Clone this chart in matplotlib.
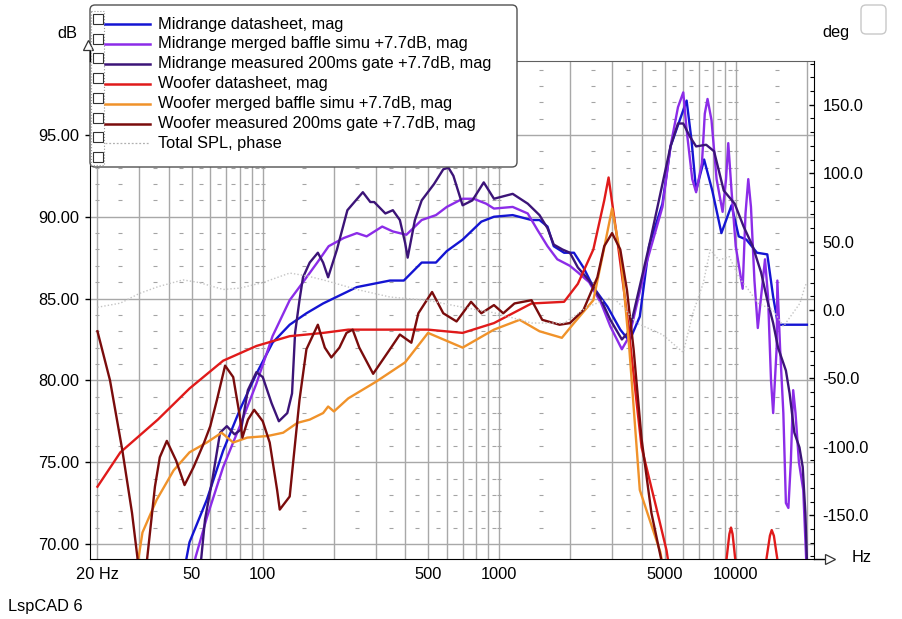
import numpy as np
import matplotlib
matplotlib.use('Agg')
import matplotlib.pyplot as plt
from matplotlib.patches import FancyBboxPatch, Rectangle
from matplotlib.ticker import FixedLocator, NullFormatter

plt.rcParams['font.family'] = ['Liberation Sans', 'DejaVu Sans']

# ---- data (Hz, dB) ----
mid_ds_f = [46, 49, 58, 68, 80, 94, 110, 130, 153, 180, 250, 345, 395, 470, 540, 600,
            700, 840, 950, 1140, 1370, 1480, 1600, 1700, 1880, 2070, 2270, 2500, 2870,
            3250, 3550, 3930, 4300, 4900, 5300, 6200, 6500, 6800, 7350, 7960, 8700,
            9600, 10300, 11100, 12300, 13600, 14400, 15100, 20000]
mid_ds_db = [68.0, 70.1, 72.7, 75.7, 78.2, 80.4, 82.3, 83.4, 84.1, 84.7, 85.7, 86.1, 86.1,
             87.2, 87.2, 87.9, 88.6, 89.7, 90.0, 90.1, 89.8, 89.8, 89.4, 88.2, 87.8, 87.8,
             86.9, 85.7, 84.5, 83.1, 82.4, 83.9, 88.2, 90.8, 94.3, 97.1, 94.7, 91.6, 93.5,
             91.6, 89.0, 90.7, 88.8, 88.6, 87.8, 87.7, 85.1, 83.4, 83.4]

mid_sim_f = [50, 52, 58, 68, 80, 94, 110, 130, 148, 170, 190, 220, 250, 275, 320, 355, 405,
             470, 540, 600, 700, 780, 880, 950, 1140, 1320, 1450, 1600, 1760, 1990, 2150,
             2400, 2700, 2950, 3300, 3550, 4200, 4900, 5300, 5700, 6000, 6200, 6550, 6800,
             7200, 7400, 7600, 7900, 8300, 8800, 9100, 9300, 9600, 10000, 10700, 11000,
             11300, 11600, 12000, 12400, 12800, 13300, 13700, 14100, 14400, 14900, 15000,
             15400, 15900, 16300, 16700, 17100, 17500, 17900, 18500, 19300, 19800, 20000]
mid_sim_db = [68.0, 69.2, 71.6, 74.7, 77.2, 79.8, 82.7, 84.9, 86.0, 87.2, 88.2, 88.7, 89.0,
              88.8, 89.4, 89.1, 88.9, 89.8, 90.1, 90.6, 91.1, 91.1, 90.8, 90.5, 90.6, 90.2,
              89.2, 88.2, 87.4, 87.0, 86.6, 86.0, 84.7, 83.3, 81.9, 82.7, 87.2, 90.6, 94.3,
              96.7, 97.6, 95.3, 92.3, 91.5, 93.3, 96.3, 97.2, 95.9, 92.3, 90.3, 92.3, 94.5,
              91.6, 88.2, 85.6, 90.2, 92.3, 90.6, 86.1, 83.2, 85.1, 87.4, 85.1, 80.0, 78.0,
              82.0, 86.1, 82.0, 78.0, 72.5, 72.2, 75.0, 79.4, 78.0, 75.0, 73.3, 69.5, 68.0]

mid_meas_f = [54, 57, 61.5, 66, 70.5, 76, 81, 86.5, 94, 100, 109, 117, 127, 133, 137, 143,
              148, 158, 171, 180, 189, 206, 228, 265, 285, 296, 330, 355, 380, 400, 410,
              440, 470, 530, 580, 610, 640, 700, 770, 860, 950, 1140, 1320, 1480, 1600,
              1700, 1850, 1990, 2150, 2400, 2700, 2950, 3300, 3550, 4300, 5300, 5700, 6000,
              6400, 6800, 7500, 8100, 8900, 9900, 10800, 11800, 12800, 13600, 14400, 15100,
              16300, 16900, 17700, 18600, 19200, 19700, 20000]
mid_meas_db = [68.0, 71.5, 74.1, 76.8, 77.2, 76.7, 77.0, 79.4, 80.5, 80.2, 78.6, 77.5, 78.0,
               79.2, 82.9, 84.9, 86.3, 87.2, 87.8, 87.2, 86.3, 88.0, 90.4, 91.5, 90.9, 90.9,
               90.2, 90.4, 89.8, 88.4, 87.5, 89.8, 91.0, 92.0, 92.9, 93.0, 92.5, 90.7, 91.0,
               92.1, 91.1, 91.4, 90.8, 90.1, 89.3, 88.3, 88.0, 87.8, 86.9, 86.1, 84.9, 83.7,
               82.5, 83.0, 88.2, 94.3, 95.7, 95.7, 94.9, 94.3, 94.4, 94.0, 91.6, 90.8, 89.4,
               88.2, 86.6, 84.9, 83.5, 82.0, 80.6, 79.2, 76.8, 75.9, 74.7, 71.9, 69.0]

woof_ds_f = [20, 25, 36, 49, 68, 94, 130, 180, 230, 500, 700, 950, 1370, 1880, 2150, 2500,
             2780, 2900, 3130, 3480, 3800, 4000, 4600, 5100, 5300,
             np.nan, 9050, 9400, 9550, 9700, 10050,
             np.nan, 13300, 13950, 14200, 14500, 15200]
woof_ds_db = [73.5, 75.6, 77.6, 79.5, 81.2, 82.1, 82.7, 82.9, 83.1, 83.1, 82.9, 83.5, 84.7,
              84.8, 85.9, 88.0, 91.0, 92.4, 89.0, 83.9, 78.8, 75.9, 72.3, 69.6, 68.0,
              np.nan, 68.5, 70.6, 71.0, 70.6, 68.5,
              np.nan, 68.5, 70.5, 70.85, 70.5, 68.5]

woof_sim_f = [29, 31, 35.6, 42, 49, 58, 67, 75, 86, 105, 122, 140, 158, 180, 189, 200, 230,
              300, 400, 500, 700, 950, 1220, 1480, 1840, 2070, 2500, 2770, 3000, 3280,
              3550, 3930, 4800, 5000]
woof_sim_db = [68.0, 70.7, 72.7, 74.5, 75.6, 76.2, 76.8, 76.2, 76.5, 76.6, 76.8, 77.4, 77.6,
               78.0, 78.4, 78.1, 78.9, 79.9, 81.1, 82.9, 82.0, 83.1, 83.7, 83.0, 82.6, 83.5,
               84.9, 88.0, 90.5, 87.4, 81.9, 73.3, 69.5, 68.0]

woof_meas_f = [20, 22.6, 25.5, 28, 29.5, 30.8, 32.5, 35, 36.7, 39.3, 43, 46.7, 51, 56.5, 60,
               64, 69.3, 75, 80, 82, 86.6, 92, 100, 107, 115, 118, 130, 136, 143, 153, 171,
               183, 195, 211, 226, 240, 256, 293, 345, 380, 425, 455, 520, 580, 660, 760,
               840, 950, 1040, 1160, 1370, 1520, 1800, 1990, 2270, 2600, 2780, 3000, 3250,
               3470, 3700, 4000, 4400, 4850, 5000]
woof_meas_db = [83.0, 80.0, 75.7, 71.9, 69.2, 66.0, 69.2, 73.5, 75.3, 76.3, 75.1, 73.6, 74.7,
                76.2, 77.2, 78.8, 80.9, 80.2, 77.8, 76.5, 77.6, 78.2, 77.5, 76.2, 73.3, 72.1,
                72.9, 75.7, 78.8, 81.9, 83.4, 82.0, 81.4, 82.0, 82.9, 83.1, 82.0, 80.4, 81.9,
                82.8, 82.3, 84.1, 85.4, 84.1, 83.6, 84.8, 84.1, 84.6, 84.1, 84.7, 84.9, 83.7,
                83.4, 83.5, 84.3, 86.3, 88.2, 89.0, 88.0, 85.5, 81.9, 76.4, 71.9, 69.0, 68.0]

# total SPL phase (deg, right axis)
phase_f = [20, 25, 30, 36, 46, 54, 68, 80, 100, 130, 153, 180, 250, 345, 430, 500, 700, 950,
           1370, 1880, 2350, 3000, 3350, 3800, 4900, 6000, 6600, 7300, 7800, 8500, 9400,
           10300, 11300, 12400, 14400, 15900, 17500, 18700, 19600, 20000]
phase_deg = [2, 5, 12, 17, 22, 20, 15, 16, 20, 27, 25, 22, 15, 9.5, 8, 7, 2, -2, -9.5, -9.5,
             2, 9.5, 2, -9.5, -18, -31, -2, 20, 44, 36.5, 39, 24, 15, 5, 0, -12, -2, 5, 17, 20]

labels = ['Midrange datasheet, mag', 'Midrange merged baffle simu +7.7dB, mag',
          'Midrange measured 200ms gate +7.7dB, mag', 'Woofer datasheet, mag',
          'Woofer merged baffle simu +7.7dB, mag', 'Woofer measured 200ms gate +7.7dB, mag',
          'Total SPL, phase']
colors = ['#1414d2', '#8c2ce8', '#3c1478', '#e01a1a', '#f0922a', '#7a0c0c', '#c4c4c4']

xtick_vals = [20, 50, 100, 500, 1000, 5000, 10000]
xtick_text = ['20 Hz', '50', '100', '500', '1000', '5000', '10000']
ytick_vals = [70, 75, 80, 85, 90, 95]
phase_ticks = [-150, -100, -50, 0, 50, 100, 150]

W, H = 902, 619
FS = 11.8


def fx(px):
    return px / W


def fy(py):
    return 1 - py / H


fig = plt.figure(figsize=(W / 100, H / 100), dpi=100)
ax = fig.add_axes([fx(90), fy(559), fx(814 - 90), (559 - 61) / H])
ax.set_xscale('log')
ax.set_xlim(18.6, 21430)
ax.set_ylim(69.08, 99.52)

# log grid: 20..90, 100..900, ... 20000
grid_f = [m * 10 ** d for d in range(1, 5) for m in range(1, 10) if 18 < m * 10 ** d <= 20000]
ax.xaxis.set_major_locator(FixedLocator(grid_f))
ax.xaxis.set_minor_formatter(NullFormatter())
ax.set_xticklabels([xtick_text[xtick_vals.index(f)] if f in xtick_vals else '' for f in grid_f])
ax.set_yticks(ytick_vals)
ax.set_yticklabels([f'{v:.2f}' for v in ytick_vals])
ax.grid(True, which='major', color='#a8a8a8', lw=1.0)
ax.tick_params(axis='x', length=0, pad=6, labelsize=FS)
ax.tick_params(axis='x', which='minor', length=0)
ax.tick_params(axis='y', length=3.5, width=1, pad=4.5, labelsize=FS)

# sparse dash grid at 1 dB steps between the major lines
mid_f = [(a + b) / 2 for a, b in zip(grid_f[:-1], grid_f[1:])] + [20, 100, 1000, 10000]
dash_db = [v for v in range(70, 100) if v % 5 != 0]
mx = [f for f in mid_f for _ in dash_db]
my = [v for _ in mid_f for v in dash_db]
ax.plot(mx, my, ls='none', marker='_', ms=3, mew=0.8, color='#a4a4a4', zorder=1)

for s in ['left', 'bottom']:
    ax.spines[s].set_color('black')
ax.spines['top'].set_color('#606060')
ax.spines['right'].set_visible(False)

series = [(mid_ds_f, mid_ds_db), (mid_sim_f, mid_sim_db), (mid_meas_f, mid_meas_db),
          (woof_ds_f, woof_ds_db), (woof_sim_f, woof_sim_db), (woof_meas_f, woof_meas_db)]

ax2 = ax.twinx()
ax2.set_ylim(-182, 182)
ax2.set_yticks(phase_ticks)
ax2.set_yticklabels([f'{v:.1f}' for v in phase_ticks])
ax2.set_yticks(range(-180, 181, 10), minor=True)
ax2.tick_params(axis='y', direction='in', length=3.5, width=1, pad=6, labelsize=FS)
ax2.tick_params(axis='y', which='minor', direction='in', length=3, width=0.8)
for s in ['left', 'top', 'bottom']:
    ax2.spines[s].set_visible(False)
ax2.spines['right'].set_color('black')
ax2.plot(phase_f, phase_deg, color=colors[6], lw=1.0, ls=(0, (1, 1.5)), zorder=2)

for (f, v), c in zip(series, colors):
    ax.plot(f, v, color=c, lw=1.7, zorder=3, solid_joinstyle='round')

# ---- overlay in pixel coords: legend box, arrows, unit labels ----
ov = fig.add_axes([0, 0, 1, 1], zorder=10)
ov.set_xlim(0, W)
ov.set_ylim(H, 0)
ov.axis('off')
ov.patch.set_alpha(0)

# axis extensions with hollow arrow heads
ov.plot([90, 90], [61, 48], color='black', lw=1)
ov.plot([88], [45], marker='^', ms=7, mfc='white', mec='#333333', mew=0.9)
ov.plot([814, 826], [559, 559], color='black', lw=1)
ov.plot([830], [559], marker='>', ms=7, mfc='white', mec='#333333', mew=0.9)
ov.text(67, 33, 'dB', fontsize=FS, ha='center', va='center')
ov.text(836, 33, 'deg', fontsize=FS, ha='center', va='center')
ov.text(862, 557, 'Hz', fontsize=FS, ha='center', va='center')
ov.text(8, 606, 'LspCAD 6', fontsize=FS, ha='left', va='center')
ov.add_patch(FancyBboxPatch((861, 5), 25, 29, boxstyle='round,pad=0,rounding_size=5',
                            fc='white', ec='#c8c8c8', lw=1))

# legend
ov.add_patch(FancyBboxPatch((90, 5), 427, 162, boxstyle='round,pad=0,rounding_size=5',
                            fc='white', ec='#505050', lw=1, zorder=1))
ov.add_patch(Rectangle((91, 11), 13, 154, fc='none', ec='#9a9a9a', lw=0.8, ls=':', zorder=2))
for i in range(8):
    ov.add_patch(Rectangle((92.5, 14 + i * 19.7), 10, 10, fc='white', ec='#333333',
                           lw=0.8, zorder=3))
for i, (lab, c) in enumerate(zip(labels, colors)):
    yy = 24 + i * 19.9
    if i < 6:
        ov.plot([105, 150], [yy, yy], color=c, lw=1.8, zorder=3)
    else:
        ov.plot([105, 150], [yy, yy], color='#b0b0b0', lw=0.9, ls=(0, (1.5, 1.5)), zorder=3)
    ov.text(158, yy, lab, fontsize=FS, ha='left', va='center', zorder=3)

fig.savefig('out.png', dpi=100)
